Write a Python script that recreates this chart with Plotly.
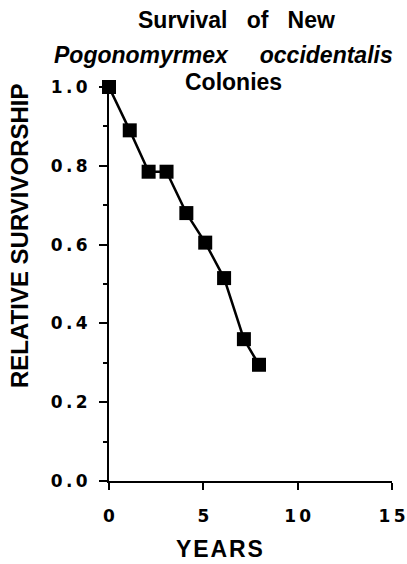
import plotly.graph_objects as go

years = [0, 1.1, 2.1, 3.05, 4.1, 5.1, 6.1, 7.15, 7.95]
survivorship = [1.0, 0.89, 0.785, 0.785, 0.68, 0.605, 0.515, 0.36, 0.295]

x_tickvals = [0, 5, 10, 15]
x_ticktext = ["0", "5", "1\u20090", "1\u20095"]
y_tickvals = [0.0, 0.2, 0.4, 0.6, 0.8, 1.0]
y_ticktext = ["0\u2009.\u20090", "0\u2009.\u20092", "0\u2009.\u20094", "0\u2009.\u20096", "0\u2009.\u20098", "1\u2009.\u20090"]

W, H = 407, 564
L, R, T, B = 109, 15, 87, 83
pw, ph = W - L - R, H - T - B

def px(x):
    return (x - L) / pw

def py(y):
    return (H - B - y) / ph

fig = go.Figure()
fig.add_trace(go.Scatter(
    x=years, y=survivorship, mode="lines+markers",
    line=dict(color="black", width=2.5),
    marker=dict(symbol="square", size=14, color="black"),
    cliponaxis=False, showlegend=False, hoverinfo="skip",
))

tick_font = dict(family="DejaVu Sans", size=17, color="black", weight="bold")
fig.update_xaxes(
    range=[0, 15], tickvals=x_tickvals, ticktext=x_ticktext, automargin=False,
    showline=True, linecolor="black", linewidth=2, showgrid=False, zeroline=False,
    ticks="outside", ticklen=7, tickwidth=2, tickcolor="black",
    tickfont=tick_font, ticklabelstandoff=12,
)
fig.update_yaxes(
    range=[0, 1.0], tickvals=y_tickvals, ticktext=y_ticktext, automargin=False,
    showline=True, linecolor="black", linewidth=2, showgrid=False, zeroline=False,
    ticks="outside", ticklen=8, tickwidth=2, tickcolor="black",
    tickfont=tick_font, ticklabelstandoff=8,
    minor=dict(dtick=0.1, ticks="outside", ticklen=4, tickwidth=2, tickcolor="black"),
)

title_font = dict(family="Liberation Sans, Arial", size=23, color="black", weight="bold")
annos = [
    dict(text="Survival&nbsp;&nbsp;&nbsp;of&nbsp;&nbsp;&nbsp;New", x=px(236), y=py(20), font=title_font),
    dict(text="<i>Pogonomyrmex&nbsp;&nbsp;&nbsp;&nbsp;&nbsp;occidentalis</i>", x=px(223), y=py(55), font=title_font),
    dict(text="Colonies", x=px(233), y=py(82), font=title_font),
    dict(text="<b>RELATIVE SURVIVORSHIP</b>", x=px(19), y=py(236), textangle=-90,
         font=dict(family="Liberation Sans, Arial", size=24, color="black")),
    dict(text="<b>Y\u200aE\u200aA\u200aR\u200aS</b>", x=px(219), y=py(549),
         font=dict(family="Liberation Sans, Arial", size=23, color="black")),
]
for a in annos:
    fig.add_annotation(xref="paper", yref="paper", showarrow=False,
                       xanchor="center", yanchor="middle", **a)

fig.update_layout(
    width=W, height=H, margin=dict(l=L, r=R, t=T, b=B, autoexpand=False),
    plot_bgcolor="white", paper_bgcolor="white",
)
fig.write_html("out.html", config={"displayModeBar": False},
               post_script="document.body.style.margin='0';document.body.style.overflow='hidden';")
